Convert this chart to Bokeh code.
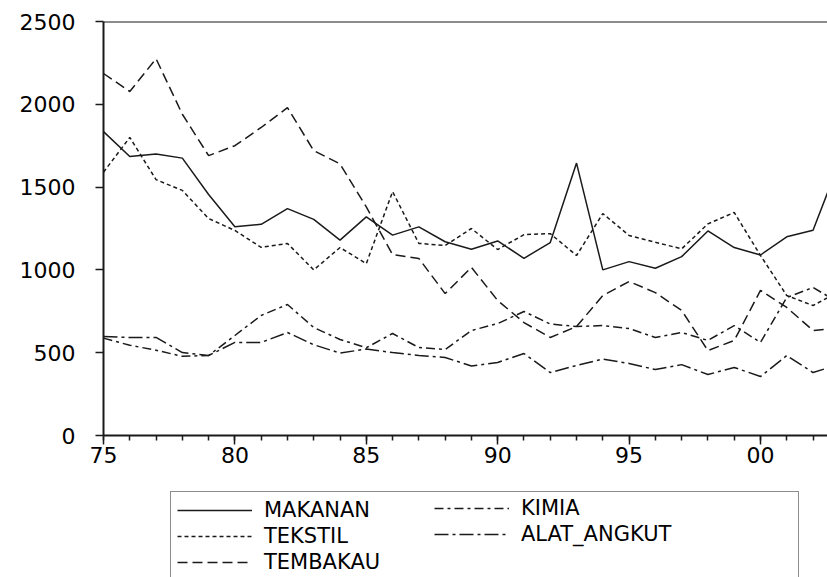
from bokeh.plotting import figure
from bokeh.layouts import column
from bokeh.models import Legend, LegendItem, FixedTicker, Span, Range1d
from bokeh.embed import file_html
from bokeh.resources import INLINE

years = list(range(1975, 2004))
makanan = [1835, 1685, 1700, 1675, 1455, 1260, 1275, 1370, 1305, 1180,
           1320, 1210, 1260, 1170, 1125, 1175, 1070, 1165, 1645, 1000,
           1050, 1010, 1080, 1235, 1135, 1090, 1200, 1240, 1650]
tekstil = [1590, 1800, 1545, 1480, 1310, 1238, 1136, 1160, 1000, 1135,
           1038, 1473, 1160, 1147, 1250, 1123, 1213, 1219, 1087, 1340,
           1208, 1167, 1127, 1278, 1347, 1087, 845, 785, 870]
tembakau = [2186, 2077, 2275, 1940, 1690, 1750, 1860, 1980, 1720, 1640,
            1380, 1093, 1069, 857, 1015, 815, 682, 592, 658, 845,
            930, 863, 755, 513, 574, 876, 773, 634, 650]
kimia = [588, 545, 515, 478, 483, 604, 725, 791, 652, 580,
         530, 616, 531, 519, 634, 676, 749, 673, 658, 664,
         646, 592, 622, 574, 664, 562, 833, 894, 800]
alat_angkut = [598, 592, 592, 501, 483, 562, 562, 622, 548, 498,
               522, 501, 483, 471, 420, 441, 495, 380, 423, 462,
               435, 398, 428, 368, 411, 356, 483, 380, 430]

x_major = [1975, 1980, 1985, 1990, 1995, 2000]
x_labels = ["75", "80", "85", "90", "95", "00"]
y_major = [0, 500, 1000, 1500, 2000, 2500]

FONT = "DejaVu Sans"
INK = "#1a1a1a"

series = [
    ("MAKANAN", makanan, None),
    ("TEKSTIL", tekstil, "4 3"),
    ("TEMBAKAU", tembakau, "10 5"),
    ("KIMIA", kimia, "9 4 3 4"),
    ("ALAT_ANGKUT", alat_angkut, "14 4 3 4"),
]

p = figure(width=827, height=472, output_backend="svg", toolbar_location=None,
           x_range=Range1d(1975, 2002.55), y_range=Range1d(0, 2500),
           min_border_left=103, min_border_right=0, min_border_top=21,
           min_border_bottom=37)
p.outline_line_color = None
p.grid.grid_line_color = None
p.background_fill_color = "white"
p.border_fill_color = "white"

for name, vals, dash in series:
    kw = dict(line_color=INK, line_width=1.5)
    if dash:
        kw["line_dash"] = dash
    p.line(years, vals, **kw)

top = Span(location=2500, dimension="width", line_color=INK, line_width=2)
p.add_layout(top)

for ax in (p.xaxis[0], p.yaxis[0]):
    ax.axis_line_width = 2
    ax.axis_line_color = INK
    ax.major_tick_line_width = 1.5
    ax.major_tick_line_color = INK
    ax.major_label_text_font = FONT
    ax.major_label_text_font_size = "22px"
    ax.major_label_text_color = "black"
    ax.major_tick_in = 0

p.xaxis.ticker = FixedTicker(ticks=x_major, minor_ticks=years)
p.xaxis.major_label_overrides = {t: l for t, l in zip(x_major, x_labels)}
p.xaxis.major_tick_out = 9
p.xaxis.minor_tick_out = 5
p.xaxis.minor_tick_in = 0
p.xaxis.minor_tick_line_width = 1.5
p.xaxis.minor_tick_line_color = INK
p.xaxis.major_label_standoff = 2

p.yaxis.ticker = FixedTicker(ticks=y_major)
p.yaxis.major_tick_out = 8
p.yaxis.minor_tick_line_color = None
p.yaxis.major_label_standoff = 20

# legend panel (separate figure below the chart); its frame is aligned with p's
p2 = figure(width=827, height=105, output_backend="svg", toolbar_location=None,
            x_range=Range1d(0, 1), y_range=Range1d(0, 1),
            x_axis_location=None, y_axis_location=None,
            min_border_left=0, min_border_right=0, min_border_top=0,
            min_border_bottom=0)
p2.outline_line_color = None
p2.grid.grid_line_color = None
p2.background_fill_color = "white"
p2.border_fill_color = "white"

items = []
for name, vals, dash in series:
    kw = dict(line_color=INK, line_width=1.5)
    if dash:
        kw["line_dash"] = dash
    # series data lie outside this panel's 0..1 range, so only the legend glyph shows
    r = p2.line(years, vals, **kw)
    items.append(LegendItem(label=name, renderers=[r]))

common = dict(label_text_font=FONT, label_text_font_size="21px",
              label_text_color="black", glyph_width=75, glyph_height=24,
              label_height=24, label_standoff=12, spacing=2, padding=6, margin=0)

legend1 = Legend(items=items[:3], location=(67, -4), orientation="vertical",
                 label_width=528, border_line_color=INK, border_line_width=1.5,
                 background_fill_color="white", background_fill_alpha=1.0,
                 **common)
legend2 = Legend(items=items[3:], location=(331, 31), orientation="vertical",
                 label_width=160, border_line_color=None,
                 background_fill_alpha=0.0, **common)
p2.add_layout(legend1, "center")
p2.add_layout(legend2, "center")

layout = column(p, p2, spacing=0)
open("out.html", "w").write(file_html(layout, INLINE))
